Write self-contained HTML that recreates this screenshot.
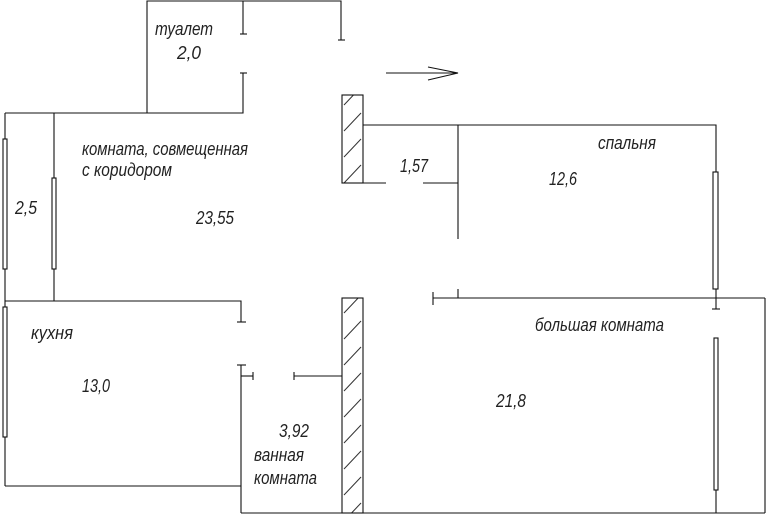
<!DOCTYPE html>
<html><head><meta charset="utf-8"><style>
html,body{margin:0;padding:0;background:#fff;}
svg{display:block;}
text{font-family:"Liberation Sans",sans-serif;font-style:italic;font-size:18px;fill:#222;}
</style></head><body>
<svg width="766" height="515" viewBox="0 0 766 515" xmlns="http://www.w3.org/2000/svg">
<defs>
<pattern id="h" width="21" height="26" patternUnits="userSpaceOnUse" patternTransform="translate(342,5)">
<line x1="2" y1="22" x2="19" y2="4" stroke="#333" stroke-width="1"/>
</pattern>
</defs>
<g stroke="#111" stroke-width="1.1" fill="none">
<polyline points="147,113 147,1 341,1 341,40"/>
<line x1="338" y1="40" x2="345" y2="40"/>
<line x1="243" y1="1" x2="243" y2="34"/>
<line x1="240" y1="34" x2="247" y2="34"/>
<polyline points="243,73 243,113 5,113"/>
<line x1="240" y1="73" x2="247" y2="73"/>
<line x1="386" y1="73" x2="458" y2="73"/>
<polyline points="428,67 458,73 428,80"/>
<line x1="5" y1="113" x2="5" y2="486"/>
<line x1="54" y1="113" x2="54" y2="301"/>
<rect x="3" y="139" width="4" height="130" fill="#fff"/>
<rect x="52" y="178" width="4" height="91" fill="#fff"/>
<rect x="3" y="307" width="4" height="130" fill="#fff"/>
<polyline points="5,301 241,301 241,322"/>
<line x1="237" y1="322" x2="246" y2="322"/>
<line x1="5" y1="486" x2="241" y2="486"/>
<line x1="241" y1="365" x2="241" y2="513"/>
<line x1="237" y1="365" x2="246" y2="365"/>
<line x1="241" y1="376" x2="253" y2="376"/>
<line x1="253" y1="372" x2="253" y2="380"/>
<line x1="294" y1="376" x2="342" y2="376"/>
<line x1="294" y1="372" x2="294" y2="380"/>
<line x1="241" y1="513" x2="765" y2="513"/>
<rect x="342" y="95" width="21" height="88" fill="url(#h)"/>
<rect x="342" y="298" width="21" height="215" fill="url(#h)"/>
<polyline points="363,125 716,125 716,298"/>
<line x1="458" y1="125" x2="458" y2="239"/>
<line x1="363" y1="183" x2="386" y2="183"/>
<line x1="423" y1="183" x2="458" y2="183"/>
<rect x="713" y="172" width="5" height="117" fill="#fff"/>
<line x1="433" y1="298" x2="765" y2="298"/>
<line x1="433" y1="292" x2="433" y2="305"/>
<line x1="458" y1="289" x2="458" y2="298"/>
<line x1="765" y1="298" x2="765" y2="513"/>
<line x1="716" y1="298" x2="716" y2="309"/>
<line x1="712" y1="309" x2="720" y2="309"/>
<line x1="716" y1="490" x2="716" y2="513"/>
<rect x="714" y="338" width="4" height="152" fill="#fff"/>
</g>
<text x="155" y="35" textLength="58" lengthAdjust="spacingAndGlyphs">туалет</text>
<text x="177" y="59" textLength="24" lengthAdjust="spacingAndGlyphs">2,0</text>
<text x="82" y="155" textLength="166" lengthAdjust="spacingAndGlyphs">комната, совмещенная</text>
<text x="82" y="176" textLength="90" lengthAdjust="spacingAndGlyphs">с коридором</text>
<text x="196" y="224" textLength="38" lengthAdjust="spacingAndGlyphs">23,55</text>
<text x="15" y="214" textLength="22" lengthAdjust="spacingAndGlyphs">2,5</text>
<text x="400" y="172" textLength="28" lengthAdjust="spacingAndGlyphs">1,57</text>
<text x="598" y="149" textLength="58" lengthAdjust="spacingAndGlyphs">спальня</text>
<text x="549" y="185" textLength="28" lengthAdjust="spacingAndGlyphs">12,6</text>
<text x="535" y="331" textLength="129" lengthAdjust="spacingAndGlyphs">большая комната</text>
<text x="496" y="407" textLength="30" lengthAdjust="spacingAndGlyphs">21,8</text>
<text x="31" y="339" textLength="42" lengthAdjust="spacingAndGlyphs">кухня</text>
<text x="82" y="392" textLength="28" lengthAdjust="spacingAndGlyphs">13,0</text>
<text x="279" y="437" textLength="30" lengthAdjust="spacingAndGlyphs">3,92</text>
<text x="254" y="461" textLength="50" lengthAdjust="spacingAndGlyphs">ванная</text>
<text x="254" y="484" textLength="63" lengthAdjust="spacingAndGlyphs">комната</text>
</svg>
</body></html>
